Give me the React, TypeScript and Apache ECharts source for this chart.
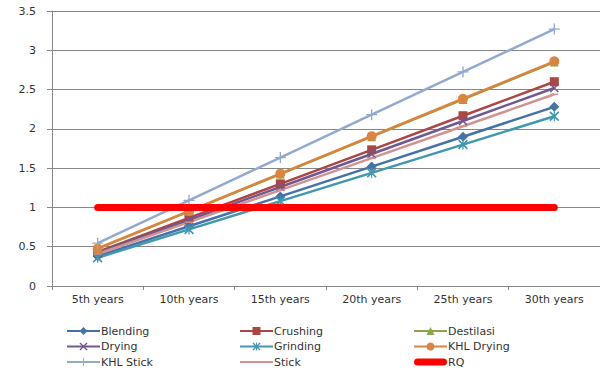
import React, { useEffect, useRef } from "react";
import * as echarts from "echarts";

const categories = ["5th years", "10th years", "15th years", "20th years", "25th years", "30th years"];
const blending = [0.38, 0.76, 1.14, 1.52, 1.9, 2.28];
const crushing = [0.433, 0.867, 1.3, 1.733, 2.167, 2.6];
const destilasi = [0.475, 0.95, 1.425, 1.9, 2.375, 2.85];
const drying = [0.42, 0.84, 1.26, 1.68, 2.1, 2.52];
const grinding = [0.36, 0.72, 1.08, 1.44, 1.8, 2.16];
const khlDrying = [0.477, 0.953, 1.43, 1.907, 2.383, 2.86];
const khlStick = [0.545, 1.09, 1.635, 2.18, 2.725, 3.27];
const stick = [0.407, 0.813, 1.22, 1.627, 2.033, 2.44];
const rq = [1, 1, 1, 1, 1, 1];

const X_PATH = "path://M0,1.2L1.2,0L10,8.8L8.8,10Z M8.8,0L10,1.2L1.2,10L0,8.8Z";
const AST_PATH = "path://M0,1.2L1.2,0L10,8.8L8.8,10Z M8.8,0L10,1.2L1.2,10L0,8.8Z M4.4,0H5.6V10H4.4Z";
const PLUS_PATH = "path://M4.4,0H5.6V4.4H10V5.6H5.6V10H4.4V5.6H0V4.4H4.4Z";
const DASH_PATH = "path://M0,0 M10,10 M0,4.1 H10 V5.9 H0Z";
const RQ_ICON = "path://M0,0 M33,10 M3.5,1.5 H29.5 A3.5,3.5 0 0 1 29.5,8.5 H3.5 A3.5,3.5 0 0 1 3.5,1.5Z";

export default function App() {
  const ref = useRef<HTMLDivElement>(null);
  useEffect(() => {
    const chart = echarts.init(ref.current!, null, { renderer: "svg" });
    const font = "DejaVu Sans";
    const mk = (name: string, data: number[], color: string, symbol: string, size: any) => ({
      name,
      type: "line",
      data,
      symbol,
      symbolSize: size,
      showSymbol: true,
      lineStyle: { color, width: 2.5 },
      itemStyle: { color, borderColor: color, borderWidth: 0 },
      z: 2,
    });
    const legendBase = {
      orient: "vertical",
      top: 324.5,
      itemWidth: 33,
      itemHeight: 10,
      itemGap: 2.5,
      padding: 0,
      textStyle: { fontFamily: font, fontSize: 11, color: "#333", lineHeight: 13, padding: [0, 0, 0, -4] },
    };
    chart.setOption({
      animation: false,
      backgroundColor: "#fff",
      grid: { left: 52, right: 0, top: 11, bottom: 85 },
      legend: [
        { ...legendBase, left: 66, data: ["Blending", "Drying", "KHL Stick"] },
        { ...legendBase, left: 239, data: ["Crushing", "Grinding", "Stick"] },
        { ...legendBase, left: 413, data: ["Destilasi", "KHL Drying", { name: "RQ", icon: RQ_ICON }] },
      ],
      xAxis: {
        type: "category",
        data: categories,
        boundaryGap: true,
        axisLine: { lineStyle: { color: "#868686", width: 1 } },
        axisTick: { show: true, length: 4, lineStyle: { color: "#868686" } },
        axisLabel: { fontFamily: font, fontSize: 11, color: "#333", margin: 8 },
      },
      yAxis: {
        type: "value",
        min: 0,
        max: 3.5,
        interval: 0.5,
        axisLine: { show: true, lineStyle: { color: "#868686", width: 1 } },
        axisTick: { show: true, length: 5, lineStyle: { color: "#868686" } },
        splitLine: { lineStyle: { color: "#868686", width: 1 } },
        axisLabel: { fontFamily: font, fontSize: 11, color: "#333", margin: 16 },
      },
      series: [
        mk("Blending", blending, "#4572A7", "diamond", 10),
        mk("Crushing", crushing, "#AA4643", "rect", 9),
        mk("Destilasi", destilasi, "#89A54E", "triangle", 9),
        mk("Drying", drying, "#71588F", X_PATH, 9),
        mk("Grinding", grinding, "#4198AF", AST_PATH, 10),
        mk("KHL Drying", khlDrying, "#DB843D", "circle", 10),
        mk("KHL Stick", khlStick, "#93A9CF", PLUS_PATH, 11),
        mk("Stick", stick, "#D19392", DASH_PATH, 8),
        {
          name: "RQ",
          type: "line",
          data: rq,
          symbol: "none",
          lineStyle: { color: "#FF0000", width: 7, cap: "round" },
          itemStyle: { color: "#FF0000" },
          z: 3,
        },
      ],
    });
    return () => chart.dispose();
  }, []);
  return <div ref={ref} style={{ position: "absolute", left: 0, top: 0, width: 600, height: 371 }} />;
}
